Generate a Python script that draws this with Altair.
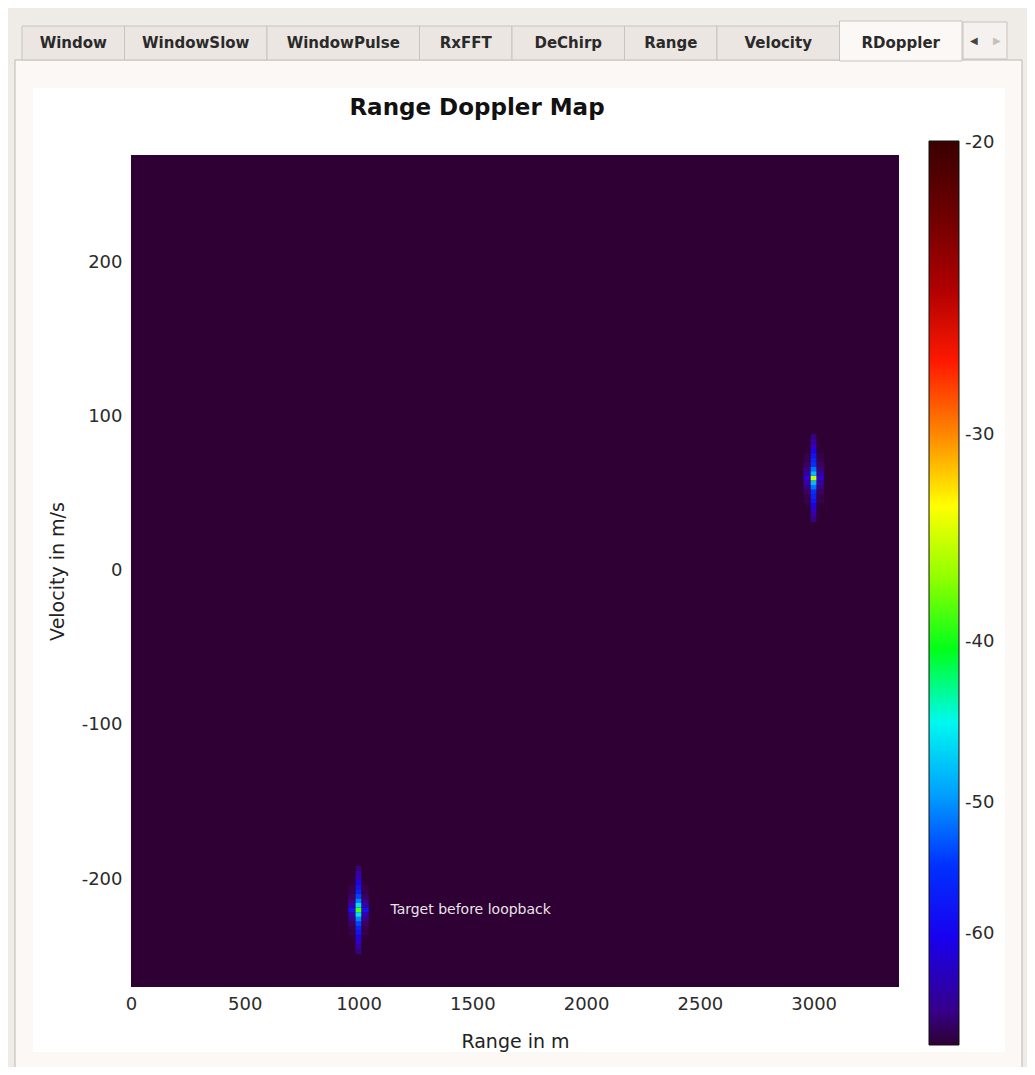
import math
import altair as alt
import pandas as pd

# ---------------- data ----------------
TABS = ["Window", "WindowSlow", "WindowPulse", "RxFFT", "DeChirp", "Range", "Velocity", "RDoppler"]
ACTIVE_TAB = "RDoppler"

TITLE = ["Range Doppler Map"]
X_TITLE = "Range in m"
Y_TITLE = "Velocity in m/s"
X_DOMAIN = [0, 3375]
Y_DOMAIN = [-270, 269.5]
X_TICKS = [0, 500, 1000, 1500, 2000, 2500, 3000]
Y_TICKS = [-200, -100, 0, 100, 200]
FLOOR_DB = -70

# colour map stops (dB) and colours (the bar is log-spaced in |dB|)
CMAP_DB = [-70, -66.7, -60.3, -54.6, -49.4, -44.7, -40.4, -36.6, -33.1, -30.0, -27.1,
           -24.5, -22.2, -19.95]
CMAP_COLORS = ["#2e0033", "#36008a", "#1800f0", "#0030ff", "#00a0ff", "#00f8f0", "#00ff10",
               "#90ff00", "#ffff00", "#ff8800", "#ff1800", "#b00000", "#700000", "#3a0000"]
CBAR_TICKS = [-20, -30, -40, -50, -60]

# targets
TARGET_RANGE = [3000, 1000]
TARGET_VEL = [60, -220]
COL_EDGES = [-45, -13, 13, 45]  # range cells around a target (m)
ROW_EDGES = [-28.5, -25.5, -22.5, -19.5, -16.5, -13.5, -10.5, -7.5, -4.5, -1.5,
             1.5, 4.5, 7.5, 10.5, 13.5, 16.5, 19.5, 22.5, 25.5, 28.5]  # velocity cells (m/s)
CENTER_DB = [
    [-67, -65, -63, -61, -59, -57, -55, -52, -48, -35, -48, -52, -55, -57, -59, -61, -63, -65, -67],
    [-67, -65, -63, -61, -59, -57, -54, -51, -46, -39, -46, -51, -54, -57, -59, -61, -63, -65, -67],
]
SIDE_DB = [
    [-70, -70, -70, -70, -69, -69, -68, -67, -65, -62, -65, -67, -68, -69, -69, -70, -70, -70, -70],
    [-70, -70, -70, -70, -69, -69, -68, -67, -64, -59, -64, -67, -68, -69, -69, -70, -70, -70, -70],
]

ANNOT_TEXT = ["Target before loopback"]
ANNOT_RANGE = [1140]
ANNOT_VEL = [-220]

FONT = "DejaVu Sans"

# ---------------- tables ----------------
rows = [dict(r0=X_DOMAIN[0], r1=X_DOMAIN[1], v0=Y_DOMAIN[0], v1=Y_DOMAIN[1], db=FLOOR_DB)]
for t, (rc, vc) in enumerate(zip(TARGET_RANGE, TARGET_VEL)):
    cols = [SIDE_DB[t], CENTER_DB[t], SIDE_DB[t]]
    for ci in range(3):
        for ri in range(len(ROW_EDGES) - 1):
            rows.append(dict(r0=rc + COL_EDGES[ci], r1=rc + COL_EDGES[ci + 1],
                             v0=vc + ROW_EDGES[ri], v1=vc + ROW_EDGES[ri + 1], db=cols[ci][ri]))
heat_df = pd.DataFrame(rows)

# tab widths follow label length, like a GUI tab bar
tab_w = [42.5 + 10 * len(t) for t in TABS]
x_edges = [-109]
for w in tab_w:
    x_edges.append(x_edges[-1] + w)
tabs_df = pd.DataFrame({"tab": TABS, "x0": x_edges[:-1], "x1": x_edges[1:]})
tabs_df["xc"] = (tabs_df.x0 + tabs_df.x1) / 2

annot_df = pd.DataFrame({"txt": ANNOT_TEXT, "r": ANNOT_RANGE, "v": ANNOT_VEL})
title_df = pd.DataFrame({"t": TITLE})
one = pd.DataFrame({"k": [0]})

# log-magnitude colour axis (as the colour bar of the original)
lg_domain = [-math.log(-d) for d in CMAP_DB]
lg_ticks = [-math.log(-d) for d in CBAR_TICKS]

# ---------------- chrome ----------------
panel = alt.Chart(one).mark_rect(fill="#fbf8f6", stroke="#bdb7b2", strokeWidth=1).encode(
    x=alt.value(-116), x2=alt.value(891), y=alt.value(-95), y2=alt.value(915))
white = alt.Chart(one).mark_rect(fill="#ffffff").encode(
    x=alt.value(-98), x2=alt.value(874), y=alt.value(-67), y2=alt.value(897))

tab_rects = alt.Chart(tabs_df).transform_filter(alt.datum.tab != ACTIVE_TAB).mark_rect(
    fill="#ebe6e2", stroke="#c9c3be", strokeWidth=1).encode(
    x=alt.X("x0:Q", scale=None), x2="x1:Q",
    y=alt.value(-129), y2=alt.value(-95))
tab_active = alt.Chart(tabs_df).transform_filter(alt.datum.tab == ACTIVE_TAB).mark_rect(
    fill="#fbf8f6", stroke="#c9c3be", strokeWidth=1).encode(
    x=alt.X("x0:Q", scale=None), x2="x1:Q",
    y=alt.value(-134), y2=alt.value(-94))
tab_text = alt.Chart(tabs_df).mark_text(font=FONT, fontWeight="bold", fontSize=15,
                                        color="#2a2a2a", baseline="middle").encode(
    x=alt.X("xc:Q", scale=None), y=alt.value(-112), text="tab:N")
arrow_box = alt.Chart(one).mark_rect(fill="#f4f1ee", stroke="#c9c3be", strokeWidth=1).encode(
    x=alt.value(832), x2=alt.value(876), y=alt.value(-133), y2=alt.value(-96))
arrow_l = alt.Chart(one).mark_text(text="◀", fontSize=10, color="#444444").encode(
    x=alt.value(843), y=alt.value(-114))
arrow_r = alt.Chart(one).mark_text(text="▶", fontSize=10, color="#c4c0bc").encode(
    x=alt.value(866), y=alt.value(-114))
title = alt.Chart(title_df).mark_text(font=FONT, fontWeight="bold", fontSize=23,
                                      color="#111111", baseline="middle").encode(
    x=alt.value(346), y=alt.value(-47), text="t:N")

# ---------------- chart ----------------
xscale = alt.Scale(domain=X_DOMAIN, nice=False, zero=False)
yscale = alt.Scale(domain=Y_DOMAIN, nice=False, zero=False)

heat = alt.Chart(heat_df).transform_calculate(
    lg="-log(-datum.db)"
).mark_rect().encode(
    x=alt.X("r0:Q", scale=xscale,
            axis=alt.Axis(values=X_TICKS, title=X_TITLE, labelPadding=8, titlePadding=19,
                          labelFlush=False, labelExpr="'' + datum.value", zindex=2)),
    x2="r1:Q",
    y=alt.Y("v0:Q", scale=yscale,
            axis=alt.Axis(values=Y_TICKS, title=Y_TITLE, labelPadding=9, titlePadding=14,
                          labelExpr="'' + datum.value", zindex=2)),
    y2="v1:Q",
    color=alt.Color("lg:Q",
                    scale=alt.Scale(type="linear", domain=lg_domain, range=CMAP_COLORS),
                    legend=alt.Legend(orient="none", legendX=798, legendY=-14,
                                      direction="vertical", gradientLength=904,
                                      gradientThickness=30, values=lg_ticks, title=None,
                                      labelFontSize=18, labelFont=FONT, labelColor="#2b2b2b",
                                      labelOffset=6, labelBaseline="middle",
                                      labelExpr="'' + round(-exp(-datum.value))",
                                      gradientStrokeColor="#111111", gradientStrokeWidth=1,
                                      labelOverlap=False, zindex=2)),
)

annot = alt.Chart(annot_df).mark_text(font=FONT, fontSize=14, color="#e8e4e8",
                                      align="left", baseline="middle").encode(
    x=alt.X("r:Q", scale=xscale),
    y=alt.Y("v:Q", scale=yscale),
    text="txt:N")

chart = alt.layer(
    panel, white, tab_rects, tab_active, tab_text, arrow_box, arrow_l, arrow_r, title, heat, annot
).properties(
    width=768, height=832,
    padding={"left": 123, "top": 147, "right": 128, "bottom": 80},
    autosize=alt.AutoSizeParams(type="none"),
).configure(background="#efebe7").configure_view(strokeWidth=0).configure_axis(
    labelFont=FONT, labelFontSize=18, labelColor="#2b2b2b", domain=False, ticks=False,
    grid=False, titleFont=FONT, titleFontSize=19, titleFontWeight="normal", titleColor="#222222")

chart.save("out.html", embed_options={"renderer": "svg", "actions": False})
